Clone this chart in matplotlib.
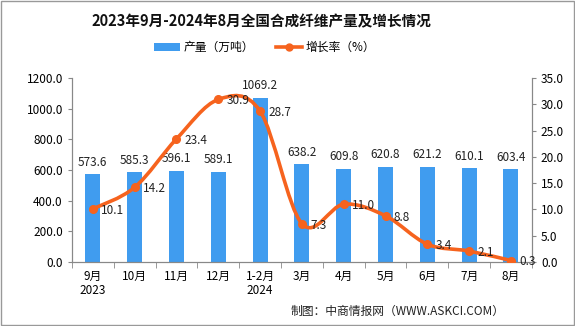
import matplotlib
matplotlib.use("Agg")
import numpy as np
from matplotlib import pyplot as plt
from matplotlib.path import Path
from matplotlib.patches import PathPatch, Rectangle
from matplotlib.lines import Line2D
from matplotlib.patches import Patch

plt.rcParams['font.family'] = ['Noto Sans CJK SC', 'DejaVu Sans']

months = ["9月\n2023", "10月", "11月", "12月", "1-2月\n2024", "3月", "4月", "5月", "6月", "7月", "8月"]
output = [573.6, 585.3, 596.1, 589.1, 1069.2, 638.2, 609.8, 620.8, 621.2, 610.1, 603.4]
growth = [10.1, 14.2, 23.4, 30.9, 28.7, 7.3, 11.0, 8.8, 3.4, 2.1, 0.3]

bar_color = '#409CEF'
line_color = '#F6631E'
axis_color = '#888888'

fig = plt.figure(figsize=(5.75, 3.26), dpi=100)
ax = fig.add_axes([0.125, 0.196, 0.800, 0.565])
ax2 = ax.twinx()

x = np.arange(len(months))
ax.bar(x, output, width=0.36, color=bar_color, zorder=2)
for xi, v in zip(x, output):
    ax.annotate(f"{v:.1f}", (xi, v), xytext=(0, 4), textcoords='offset points',
                ha='center', va='bottom', fontsize=8.5, color='#222222')

ax.set_xlim(-0.5, len(months) - 0.5)
ax.set_ylim(0, 1200)
ax.set_yticks(np.arange(0, 1201, 200))
ax.set_yticklabels([f"{t:.1f}" for t in np.arange(0, 1201, 200)], fontsize=8.5)
ax.set_xticks(x)
ax.set_xticklabels(months, fontsize=8.5, linespacing=1.1)
ax.set_xticks(np.arange(-0.5, len(months)), minor=True)
ax.tick_params(axis='x', which='major', length=0, pad=6)
ax.tick_params(axis='x', which='minor', length=4, color=axis_color)
ax.tick_params(axis='y', length=3, color=axis_color)
ax2.tick_params(axis='y', length=3, color=axis_color)

# smooth line through the growth points (cubic bezier, excel-like smoothing)
pts = np.column_stack([x, growth]).astype(float)
verts = [tuple(pts[0])]
codes = [Path.MOVETO]
n = len(pts)
for i in range(n - 1):
    p0 = pts[i - 1] if i > 0 else pts[i]
    p1 = pts[i]
    p2 = pts[i + 1]
    p3 = pts[i + 2] if i + 2 < n else pts[i + 1]
    c1 = p1 + (p2 - p0) / 6.0
    c2 = p2 - (p3 - p1) / 6.0
    verts += [tuple(c1), tuple(c2), tuple(p2)]
    codes += [Path.CURVE4] * 3
curve = PathPatch(Path(verts, codes), facecolor='none', edgecolor=line_color, lw=2.6, zorder=3)
ax2.add_patch(curve)
ax2.plot(x, growth, 'o', color=line_color, ms=5.5, zorder=4)
for xi, v in zip(x, growth):
    ax2.annotate(f"{v:.1f}", (xi, v), xytext=(6, -1), textcoords='offset points',
                 ha='left', va='center', fontsize=8.5, color='#222222', zorder=5)

ax2.set_ylim(0, 35)
ax2.set_yticks(np.arange(0, 36, 5))
ax2.set_yticklabels([f"{t:.1f}" for t in np.arange(0, 36, 5)], fontsize=8.5)

for a in (ax, ax2):
    a.spines['top'].set_visible(False)
    for s in ('left', 'right', 'bottom'):
        a.spines[s].set_color(axis_color)

fig.text(0.455, 0.935, "2023年9月-2024年8月全国合成纤维产量及增长情况", ha='center', va='center',
         fontsize=10.5, fontweight='bold', color='#111111')

handles = [Patch(facecolor=bar_color, edgecolor='none'),
           Line2D([0], [0], color=line_color, lw=2.6, marker='o', ms=5)]
fig.legend(handles, ["产量（万吨）", "增长率（%）"], loc='center', bbox_to_anchor=(0.46, 0.855),
           ncol=2, frameon=False, fontsize=8.5, handlelength=2.2, columnspacing=1.8,
           handletextpad=0.3)

fig.text(0.878, 0.045, "制图：中商情报网（WWW.ASKCI.COM）", ha='right', va='center', fontsize=8.5,
         color='#222222')

fig.patches.append(Rectangle((0.001, 0.002), 0.997, 0.995, transform=fig.transFigure,
                             fill=False, edgecolor='#999999', lw=1))

fig.savefig("out.png", dpi=100)
